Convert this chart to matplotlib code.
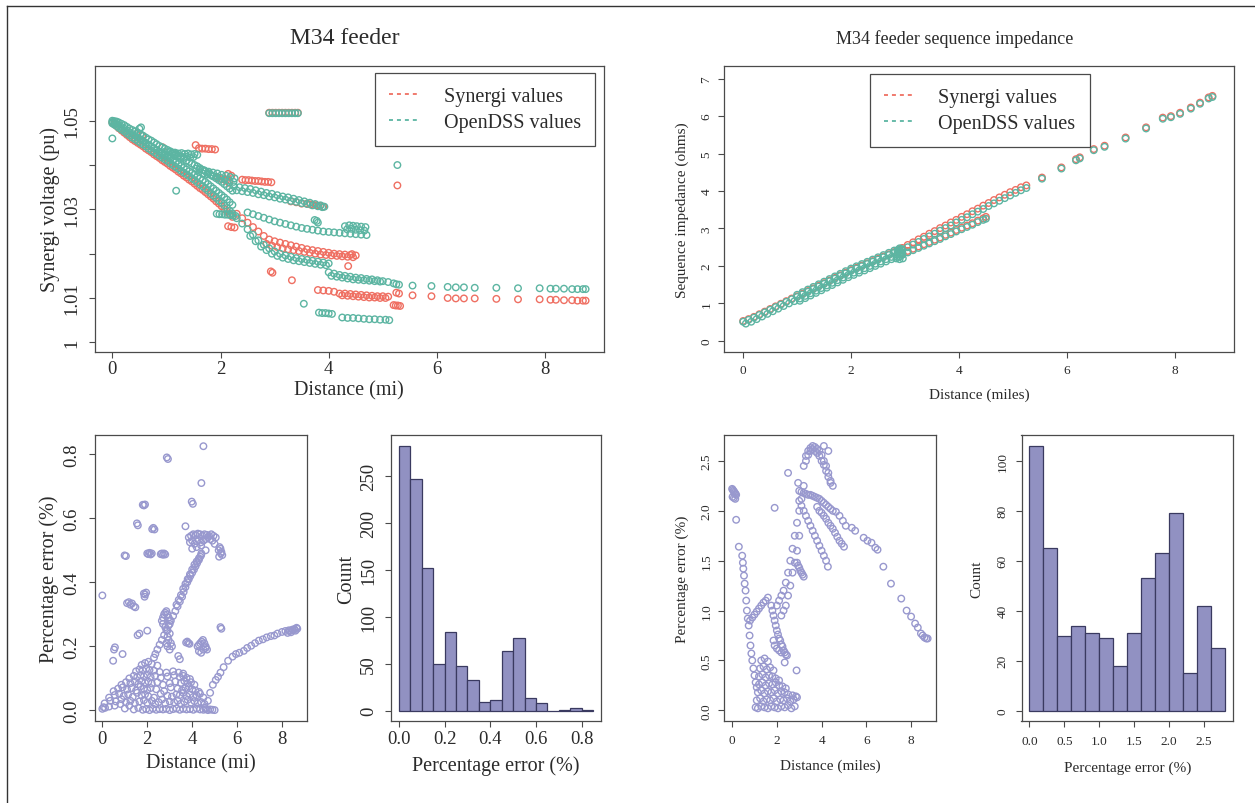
import numpy as np
import matplotlib
matplotlib.use("Agg")
import matplotlib.pyplot as plt
from matplotlib.lines import Line2D

plt.rcParams['font.family'] = ['Liberation Serif', 'DejaVu Serif']

SYN = '#EF6F62'
DSS = '#5CB5A2'
PUR = '#9898CE'
HIST_FILL = '#9191C2'
HIST_EDGE = '#3A3A60'
INK = '#2b2b2b'
AXC = '#4a4a4a'

# ---------------------------------------------------------------- voltage profile (pu)
trunk_dist = [0.00,0.04,0.08,0.12,0.17,0.22,0.27,0.32,0.37,0.42,0.47,0.52,0.57,0.62,0.67,0.72,0.77,0.82,0.87,0.92,0.97,
              1.02,1.07,1.12,1.17,1.22,1.27,1.32,1.37,1.42,1.47,1.52,1.57,1.62,1.67,1.72,1.77,1.82,1.87,1.92,1.97,2.02,2.07,2.12,2.17,2.22]
dss_trunk_hi = [1.0500,1.0499,1.0498,1.0496,1.0493,1.0490,1.0486,1.0482,1.0479,1.0476,1.0473,1.0470,1.0466,1.0462,1.0458,1.0455,1.0451,1.0447,1.0443,1.0440,1.0437,
                1.0434,1.0431,1.0428,1.0424,1.0421,1.0418,1.0414,1.0410,1.0407,1.0403,1.0400,1.0397,1.0393,1.0389,1.0386,1.0382,1.0378,1.0374,1.0370,1.0366,1.0362,1.0357,1.0352,1.0347,1.0342]
dss_trunk_mid = [1.0497,1.0495,1.0493,1.0490,1.0486,1.0482,1.0478,1.0474,1.0470,1.0466,1.0462,1.0458,1.0454,1.0450,1.0446,1.0442,
                 1.0438,1.0434,1.0430,1.0426,1.0422,1.0418,1.0414,1.0410,1.0406,1.0402,1.0398,1.0394,1.0390,1.0386,1.0382,1.0378,1.0374,1.0370,1.0366,1.0362,
                 1.0357,1.0352,1.0347,1.0342,1.0337,1.0332,1.0327,1.0322,1.0316,1.0310]
dss_trunk_lo = [1.0494,1.0491,1.0488,1.0484,1.0480,1.0476,1.0471,1.0467,1.0462,1.0458,1.0454,1.0450,1.0446,1.0442,1.0437,1.0433,1.0429,1.0425,1.0421,1.0417,
                1.0413,1.0409,1.0404,1.0400,1.0396,1.0392,1.0387,1.0383,1.0379,1.0375,1.0370,1.0366,1.0361,1.0356,1.0352,1.0347,1.0342,1.0336,1.0331,1.0326,
                1.0320,1.0315,1.0309,1.0303,1.0297,1.0291]
syn_trunk = [1.0496,1.0492,1.0488,1.0483,1.0478,1.0473,1.0468,1.0463,1.0458,1.0454,1.0450,1.0446,1.0442,1.0437,1.0433,1.0429,1.0424,1.0420,1.0416,1.0411,
             1.0407,1.0403,1.0398,1.0394,1.0390,1.0385,1.0381,1.0376,1.0372,1.0367,1.0363,1.0358,1.0353,1.0348,1.0344,1.0339,1.0334,1.0329,1.0324,1.0318,
             1.0313,1.0307,1.0301,1.0295,1.0289,1.0283]

dss_lat_dist = [0.90,0.97,1.04,1.10,1.16,1.22,1.28,1.34,1.40,1.46,1.52,1.57,0.95,1.02,1.08,1.14,1.20,1.26,1.32,1.38,1.44,1.50,
                1.55,1.62,1.70,1.78,1.86,1.94,2.02,2.10,2.18,2.26,1.60,1.68,1.76,1.84,1.92,2.00,2.08,2.16,2.24,
                1.93,1.98,2.03,2.08,2.13,2.18,2.23,2.28]
dss_lat_volt = [1.0428,1.0430,1.0429,1.0427,1.0428,1.0426,1.0427,1.0425,1.0426,1.0424,1.0425,1.0423,1.0421,1.0422,1.0420,1.0421,1.0419,1.0420,1.0418,1.0419,1.0417,1.0418,
                1.0392,1.0390,1.0388,1.0385,1.0383,1.0381,1.0378,1.0376,1.0373,1.0370,1.0384,1.0381,1.0379,1.0376,1.0374,1.0371,1.0368,1.0365,1.0362,
                1.0290,1.0289,1.0289,1.0288,1.0288,1.0287,1.0286,1.0285]

dss_upper_dist = [2.25,2.35,2.45,2.55,2.65,2.75,2.85,2.95,3.05,3.15,3.25,3.35,3.45,3.55,3.65,3.75,3.85,3.92,
                  2.30,2.40,2.50,2.60,2.70,2.80,2.90,3.00,3.10,3.20,3.30,3.40,3.50,3.60,3.70,3.80,3.88]
dss_upper_volt = [1.0352,1.0350,1.0348,1.0346,1.0343,1.0340,1.0337,1.0335,1.0332,1.0329,1.0327,1.0324,1.0321,1.0318,1.0315,1.0312,1.0309,1.0306,
                  1.0343,1.0341,1.0339,1.0337,1.0334,1.0332,1.0329,1.0327,1.0324,1.0322,1.0319,1.0317,1.0314,1.0312,1.0309,1.0307,1.0305]

dss_mid_dist = [2.50,2.60,2.70,2.80,2.90,3.00,3.10,3.20,3.30,3.40,3.50,3.60,3.70,3.80,3.90,4.00,4.10,4.20,4.30,4.40,4.50,4.60,4.70,
                4.30,4.38,4.45,4.52,4.60,4.68,4.34,4.42,4.50,4.58,4.66,3.74,3.78,3.80]
dss_mid_volt = [1.0293,1.0289,1.0285,1.0281,1.0277,1.0273,1.0270,1.0267,1.0264,1.0261,1.0258,1.0256,1.0254,1.0252,1.0250,1.0249,1.0248,1.0247,1.0246,1.0245,1.0244,1.0243,1.0242,
                1.0262,1.0264,1.0263,1.0262,1.0261,1.0260,1.0255,1.0256,1.0254,1.0253,1.0252,1.0276,1.0274,1.0270]

dss_lower_dist = [2.30,2.40,2.50,2.60,2.70,2.80,2.90,3.00,3.10,3.20,3.30,3.40,3.50,3.60,3.70,3.80,3.90,4.00,
                  2.55,2.65,2.75,2.85,2.95,3.05,3.15,3.25,3.35,3.45,3.55,3.65,3.75,3.85,3.95]
dss_lower_volt = [1.0280,1.0268,1.0255,1.0243,1.0230,1.0220,1.0212,1.0205,1.0200,1.0196,1.0193,1.0190,1.0188,1.0186,1.0184,1.0182,1.0180,1.0178,
                  1.0240,1.0228,1.0216,1.0208,1.0200,1.0195,1.0191,1.0188,1.0185,1.0183,1.0181,1.0179,1.0177,1.0175,1.0174]

dss_tail_dist = [4.00,4.10,4.20,4.30,4.40,4.50,4.60,4.70,4.80,4.90,5.00,5.10,5.20,5.25,5.30,5.55,5.90,6.20,6.35,6.50,6.70,7.10,7.50,7.90,
                 8.10,8.20,8.35,8.50,8.60,8.70,8.75,
                 4.05,4.15,4.25,4.35,4.45,4.55,4.65,4.75,4.85,4.95]
dss_tail_volt = [1.0158,1.0155,1.0152,1.0150,1.0148,1.0146,1.0145,1.0143,1.0142,1.0140,1.0138,1.0136,1.0133,1.0131,1.0130,1.0128,1.0127,1.0125,1.0124,1.0124,1.0123,1.0123,1.0122,1.0122,
                 1.0121,1.0121,1.0121,1.0120,1.0120,1.0120,1.0120,
                 1.0150,1.0148,1.0146,1.0144,1.0142,1.0141,1.0140,1.0139,1.0138,1.0137]

dss_low_dist = [3.54,3.82,3.88,3.94,4.00,4.06,4.25,4.35,4.45,4.55,4.65,4.75,4.85,4.95,5.05,5.12]
dss_low_volt = [1.0087,1.0067,1.0066,1.0066,1.0065,1.0064,1.0056,1.0055,1.0055,1.0054,1.0053,1.0052,1.0052,1.0051,1.0051,1.0050]

high_dist = [2.90,2.96,3.02,3.08,3.14,3.20,3.26,3.32,3.38,3.43]
dss_high_volt = [1.0517,1.0517,1.0517,1.0517,1.0517,1.0517,1.0517,1.0517,1.0517,1.0517]
syn_high_volt = [1.0518,1.0518,1.0518,1.0518,1.0518,1.0518,1.0518,1.0518,1.0518,1.0518]

dss_odd_dist = [0.00,0.50,0.53,1.18,5.27]
dss_odd_volt = [1.0460,1.0482,1.0485,1.0342,1.0400]

syn_lat_dist = [0.93,1.54,1.60,1.66,1.72,1.78,1.84,1.90,
                2.14,2.20,2.40,2.46,2.52,2.58,2.64,2.70,2.76,2.82,2.88,2.94,3.60,3.66,3.72,3.78,3.84,3.90,3.30,3.40,3.50]
syn_lat_volt = [1.0440,1.0445,1.0438,1.0437,1.0437,1.0436,1.0436,1.0435,
                1.0380,1.0376,1.0367,1.0366,1.0366,1.0365,1.0364,1.0364,1.0363,1.0362,1.0362,1.0361,1.0313,1.0311,1.0310,1.0309,1.0308,1.0306,1.0318,1.0316,1.0313]

syn_mid_dist = [2.30,2.40,2.50,2.60,2.70,2.80,2.90,3.00,3.10,3.20,3.30,3.40,3.50,3.60,3.70,3.80,3.90,4.00,4.10,4.20,4.30,4.40,4.50,
                2.85,2.95,3.05,3.15,3.25,3.35,3.45,3.55,3.65,3.75,3.85,3.95,4.05,4.15,4.25,4.35,4.45]
syn_mid_volt = [1.0290,1.0280,1.0270,1.0260,1.0250,1.0240,1.0232,1.0228,1.0225,1.0222,1.0219,1.0216,1.0213,1.0210,1.0208,1.0206,1.0204,1.0202,1.0200,1.0199,1.0198,1.0197,1.0196,
                1.0222,1.0218,1.0215,1.0212,1.0210,1.0208,1.0206,1.0204,1.0202,1.0200,1.0198,1.0197,1.0196,1.0195,1.0194,1.0193,1.0192]

syn_tail_dist = [3.80,3.90,4.00,4.10,4.20,4.30,4.40,4.50,4.60,4.70,4.80,4.90,5.00,5.10,5.25,5.30,5.55,5.90,6.20,6.35,6.50,6.70,7.10,7.50,7.90,
                 8.10,8.20,8.35,8.50,8.60,8.70,8.75,
                 4.25,4.35,4.45,4.55,4.65,4.75,4.85,4.95,5.05,5.20,5.24,5.28,5.32]
syn_tail_volt = [1.0118,1.0117,1.0116,1.0114,1.0110,1.0110,1.0109,1.0108,1.0107,1.0106,1.0105,1.0104,1.0104,1.0103,1.0112,1.0110,1.0106,1.0104,1.0100,1.0099,1.0099,1.0099,1.0098,1.0097,1.0097,
                 1.0096,1.0096,1.0095,1.0095,1.0094,1.0094,1.0094,
                 1.0106,1.0105,1.0104,1.0103,1.0102,1.0101,1.0101,1.0100,1.0100,1.0084,1.0083,1.0083,1.0082]

syn_odd_dist = [2.93,2.96,3.32,4.36,4.43,5.27,2.14,2.20,2.26,1.95,2.02,2.10,2.16,0.45,0.55]
syn_odd_volt = [1.0160,1.0157,1.0140,1.0172,1.0199,1.0354,1.0262,1.0260,1.0259,1.0372,1.0368,1.0365,1.0360,1.0470,1.0466]

# ---------------------------------------------------------------- sequence impedance (ohms)
imp_a_dist = [0.00,0.10,0.20,0.30,0.40,0.50,0.60,0.70,0.80,0.90,1.00,1.10,1.20,1.30,1.40,1.50,1.60,1.70,1.80,1.90,
              2.00,2.10,2.20,2.30,2.40,2.50,2.60,2.70,2.80,2.90]
dss_imp_a = [0.51,0.56,0.62,0.69,0.76,0.83,0.90,0.97,1.04,1.11,1.17,1.24,1.31,1.38,1.45,1.52,1.59,1.66,1.73,1.80,
             1.87,1.93,1.99,2.05,2.11,2.17,2.23,2.29,2.35,2.41]
syn_imp_a = [0.53,0.58,0.64,0.71,0.78,0.85,0.92,0.99,1.06,1.13,1.19,1.26,1.33,1.40,1.47,1.54,1.61,1.68,1.75,1.82,
             1.89,1.95,2.01,2.07,2.13,2.19,2.25,2.31,2.37,2.43]
imp_b_dist = [0.05,0.15,0.25,0.35,0.45,0.55,0.65,0.75,0.85,0.95,1.05,1.15,1.25,1.35,1.45,1.55,1.65,1.75,1.85,1.95,
              2.05,2.15,2.25,2.35,2.45,2.55,2.65,2.75,2.85,2.95]
dss_imp_b = [0.46,0.51,0.58,0.65,0.72,0.79,0.86,0.93,1.00,1.06,1.13,1.20,1.27,1.34,1.41,1.48,1.55,1.62,1.69,1.76,
             1.82,1.88,1.94,2.00,2.06,2.12,2.18,2.24,2.30,2.36]
imp_c_dist = [1.00,1.10,1.20,1.30,1.40,1.50,1.60,1.70,1.80,1.90,2.00,2.10,2.20,2.30,2.40,2.50,2.60,2.70,2.80,2.90]
dss_imp_c = [1.23,1.30,1.37,1.44,1.51,1.58,1.65,1.72,1.79,1.86,1.93,1.99,2.05,2.11,2.17,2.23,2.29,2.35,2.41,2.47]
imp_d_dist = [1.05,1.15,1.25,1.35,1.45,1.55,1.65,1.75,1.85,1.95,2.05,2.15,2.25,2.35,2.45,2.55,2.65,2.75,2.85,2.95]
dss_imp_d = [1.07,1.14,1.21,1.28,1.35,1.42,1.49,1.56,1.63,1.70,1.76,1.82,1.88,1.94,2.00,2.06,2.12,2.18,2.24,2.30]
blob_dist = [2.84,2.86,2.88,2.90,2.92,2.94,2.96,2.86,2.90,2.94]
dss_blob = [2.20,2.30,2.40,2.25,2.35,2.45,2.20,2.42,2.18,2.30]
up_dist = [2.95,3.05,3.15,3.25,3.35,3.45,3.55,3.65,3.75,3.85,3.95,4.05,4.15,4.25,4.35,4.45,4.55,4.65,4.75,4.85,4.95,5.05,5.15,5.25]
dss_up = [2.42,2.50,2.57,2.64,2.72,2.79,2.86,2.94,3.01,3.08,3.16,3.23,3.30,3.38,3.45,3.52,3.60,3.67,3.74,3.81,3.88,3.95,4.02,4.08]
syn_up = [2.48,2.56,2.63,2.71,2.78,2.86,2.93,3.01,3.08,3.16,3.23,3.31,3.38,3.46,3.53,3.61,3.68,3.76,3.83,3.90,3.97,4.03,4.10,4.15]
lo_dist = [2.95,3.05,3.15,3.25,3.35,3.45,3.55,3.65,3.75,3.85,3.95,4.05,4.15,4.25,4.35,4.45,4.50]
dss_lo = [2.30,2.36,2.42,2.48,2.54,2.60,2.66,2.72,2.79,2.85,2.92,2.98,3.04,3.10,3.17,3.23,3.26]
syn_lo = [2.34,2.40,2.46,2.52,2.58,2.64,2.70,2.76,2.83,2.89,2.96,3.02,3.08,3.14,3.21,3.27,3.31]
far_dist = [5.54,5.90,6.17,6.24,6.50,6.70,7.09,7.47,7.78,7.93,8.10,8.30,8.47,8.63,8.70]
dss_far = [4.33,4.60,4.82,4.87,5.09,5.18,5.40,5.67,5.93,5.97,6.06,6.20,6.33,6.47,6.51]
syn_far = [4.36,4.63,4.85,4.90,5.12,5.21,5.43,5.70,5.96,6.00,6.09,6.23,6.36,6.50,6.54]

# ---------------------------------------------------------------- voltage percentage error (%)
verr_dist = [0.00,0.05,0.12,0.30,0.55,0.80,1.00,1.20,1.40,1.60,1.80,1.95,2.10,2.25,2.40,2.55,2.70,2.85,3.00,3.15,3.30,3.45,3.60,3.75,3.90,4.05,4.20,4.35,4.50,4.60,4.70,4.80,4.90,5.00,
             0.10,0.35,0.60,0.85,1.05,1.25,1.45,1.65,1.85,2.00,2.20,2.35,2.50,2.65,2.80,3.00,3.20,3.35,3.50,3.65,3.80,3.95,4.10,4.25,4.40,4.55,
             0.30,0.55,0.75,0.95,1.15,1.35,1.55,1.75,1.90,2.05,2.30,2.60,2.90,3.10,3.30,3.45,3.60,3.75,3.90,4.05,4.20,4.35,4.50,
             0.50,0.70,0.90,1.10,1.30,1.50,1.70,1.85,2.00,2.15,2.40,2.75,3.05,3.35,3.55,3.70,3.85,4.00,4.15,4.30,
             0.85,1.05,1.25,1.45,1.60,1.75,1.90,2.05,2.20,2.45,2.70,3.00,3.25,3.50,3.65,3.80,3.95,4.10,
             1.20,1.40,1.55,1.70,1.85,2.00,2.15,2.35,2.60,2.90,3.20,3.45,3.60,3.75,3.90,
             1.50,1.65,1.80,1.95,2.10,2.30,2.55,2.85,3.15,3.40,3.60,
             1.75,1.90,2.05,2.20,2.45,2.30]
verr_pct = [0.005,0.010,0.008,0.012,0.015,0.020,0.006,0.015,0.003,0.008,0.002,0.004,0.001,0.006,0.002,0.004,0.003,0.005,0.001,0.004,0.006,0.002,0.005,0.003,0.004,0.002,0.006,0.003,0.002,0.004,0.001,0.003,0.002,0.001,
            0.022,0.030,0.028,0.035,0.025,0.030,0.022,0.028,0.032,0.024,0.030,0.020,0.026,0.034,0.022,0.028,0.025,0.030,0.021,0.027,0.033,0.024,0.029,0.022,0.026,0.020,
            0.040,0.048,0.052,0.045,0.050,0.042,0.055,0.047,0.050,0.044,0.040,0.052,0.046,0.043,0.050,0.048,0.055,0.045,0.050,0.042,0.047,0.052,0.040,
            0.060,0.068,0.072,0.065,0.070,0.062,0.075,0.068,0.064,0.070,0.066,0.060,0.072,0.068,0.063,0.070,0.075,0.066,0.062,0.058,
            0.080,0.088,0.085,0.090,0.082,0.092,0.086,0.090,0.084,0.088,0.080,0.085,0.090,0.086,0.092,0.084,0.088,0.080,
            0.100,0.108,0.104,0.110,0.106,0.112,0.104,0.108,0.102,0.106,0.110,0.104,0.108,0.102,0.098,
            0.122,0.128,0.125,0.130,0.126,0.124,0.120,0.118,0.122,0.118,0.115,
            0.142,0.148,0.152,0.145,0.140,0.165]

verr_hi_dist = [0.00,0.48,0.52,0.56,0.90,0.99,1.05,1.10,1.18,1.25,1.32,1.40,1.47,1.54,1.58,1.80,1.85,1.90,1.85,1.90,1.95,1.88,1.57,1.65,2.00,
                2.00,2.05,2.10,2.15,2.20,2.22,2.27,2.32,2.60,2.65,2.70,2.75,2.80,2.87,2.92,
                2.65,2.70,2.75,2.80,2.85,2.90,2.95,3.00,2.70,2.80,2.90,3.00,2.85,2.90,2.95,3.00,3.05,3.10,2.90,3.00]
verr_hi_pct = [0.359,0.155,0.190,0.197,0.176,0.484,0.482,0.335,0.338,0.330,0.334,0.325,0.322,0.584,0.578,0.642,0.640,0.643,0.365,0.362,0.368,0.355,0.235,0.240,0.249,
               0.490,0.488,0.492,0.487,0.490,0.566,0.570,0.565,0.488,0.490,0.486,0.490,0.487,0.790,0.785,
               0.280,0.290,0.300,0.305,0.310,0.300,0.290,0.280,0.270,0.260,0.250,0.270,0.210,0.200,0.220,0.240,0.210,0.200,0.230,0.190]

verr_diag_dist = [2.36,2.45,2.55,2.65,2.75,2.85,2.95,3.05,3.15,3.25,3.35,3.45,3.55,3.62,3.70,3.78,3.85,3.92,4.00,4.08,4.15,4.22,4.30,4.36,4.41,
                  3.30,3.40,3.50,3.60,3.70,3.80,3.90,4.00,4.10,4.20,4.30,4.40]
verr_diag_pct = [0.176,0.190,0.205,0.220,0.235,0.250,0.265,0.280,0.295,0.310,0.325,0.340,0.355,0.370,0.385,0.400,0.410,0.420,0.430,0.440,0.450,0.460,0.470,0.480,0.490,
                 0.330,0.345,0.360,0.380,0.395,0.410,0.425,0.440,0.455,0.465,0.475,0.485]

verr_far_dist = [3.85,3.95,4.05,4.15,4.25,4.35,4.45,4.55,4.65,4.75,4.85,4.95,5.05,3.90,4.00,4.10,4.20,4.30,4.40,4.50,4.60,4.70,4.80,4.90,5.00,4.00,4.20,4.40,4.60,
                 3.70,3.98,4.03,4.41,4.50,5.18,5.22,5.26,5.30,5.34,5.20,5.28,3.73,3.78,3.83,3.88,4.24,4.30,4.36,4.42,4.48,4.54,4.60,4.66,4.30,4.40,4.50,4.60,3.38,3.45,5.26,5.30,
                 4.58,4.70,4.80,4.92,5.05,5.15,5.26,5.40,5.60,5.80,5.95,6.10,6.30,6.45,6.63,6.80,6.97,7.15,7.32,7.50,7.66,7.80,8.00,8.15,8.30,8.45,8.55,8.68,
                 8.25,8.35,8.40,8.50,8.60,8.65]
verr_far_pct = [0.540,0.545,0.550,0.548,0.552,0.550,0.545,0.550,0.548,0.545,0.550,0.545,0.540,0.525,0.530,0.520,0.528,0.532,0.525,0.530,0.535,0.540,0.535,0.530,0.520,0.505,0.510,0.515,0.500,
                0.575,0.652,0.645,0.710,0.825,0.500,0.510,0.505,0.495,0.485,0.480,0.490,0.212,0.215,0.210,0.208,0.200,0.205,0.210,0.215,0.220,0.210,0.200,0.190,0.185,0.180,0.190,0.195,0.170,0.160,0.260,0.255,
                0.008,0.030,0.055,0.080,0.095,0.105,0.118,0.135,0.155,0.168,0.176,0.180,0.186,0.195,0.202,0.210,0.218,0.222,0.228,0.232,0.234,0.240,0.245,0.248,0.250,0.252,0.254,0.255,
                0.242,0.248,0.244,0.250,0.249,0.258]

verr_bin_edges = [0.00,0.05,0.10,0.15,0.20,0.25,0.30,0.35,0.40,0.45,0.50,0.55,0.60,0.65,0.70,0.75,0.80,0.85]
verr_counts = [282,246,152,50,84,48,33,9,11,64,77,14,8,0,1,3,1]

# ---------------------------------------------------------------- impedance percentage error (%)
ierr_dist = [0.00,0.03,0.06,0.09,0.12,0.15,0.18,0.02,0.08,0.14,0.18,0.30,
             0.45,0.48,0.50,0.53,0.56,0.60,0.63,0.66,0.70,0.74,0.78,0.82,0.86,0.90,0.95,1.00,1.05,1.10,
             0.80,0.90,1.00,1.10,1.20,1.30,1.40,1.50,1.60,
             1.05,1.15,1.30,1.45,1.60,1.75,1.90,2.05,2.20,2.35,2.50,2.65,2.80,
             1.10,1.25,1.40,1.55,1.70,1.85,2.00,2.15,2.30,2.45,2.60,2.75,2.90,
             1.15,1.30,1.45,1.60,1.75,1.90,2.05,2.20,2.35,2.50,2.70,2.85,
             1.20,1.35,1.50,1.65,1.80,1.95,2.10,2.25,2.40,
             1.20,1.35,1.50,1.65,1.80,1.95,2.10,
             1.25,1.40,1.55,1.70,1.85,
             1.30,1.45,1.60,2.88,2.35]
ierr_pct = [2.22,2.21,2.20,2.19,2.18,2.17,2.16,2.14,2.13,2.12,1.91,1.64,
            1.55,1.48,1.42,1.35,1.27,1.20,1.10,1.00,0.92,0.85,0.75,0.65,0.57,0.50,0.42,0.35,0.28,0.23,
            0.90,0.93,0.96,0.99,1.02,1.05,1.08,1.10,1.13,
            0.03,0.02,0.04,0.03,0.02,0.04,0.03,0.02,0.04,0.03,0.05,0.02,0.04,
            0.10,0.12,0.09,0.11,0.10,0.12,0.09,0.11,0.10,0.12,0.09,0.11,0.13,
            0.18,0.20,0.17,0.19,0.18,0.20,0.17,0.19,0.18,0.16,0.15,0.14,
            0.26,0.28,0.25,0.27,0.26,0.28,0.25,0.24,0.22,
            0.34,0.36,0.33,0.35,0.34,0.32,0.30,
            0.42,0.44,0.41,0.43,0.40,
            0.50,0.52,0.49,0.40,0.48]

ierr_arm_dist = [1.75,1.80,1.85,1.90,1.95,2.00,2.05,2.10,2.15,2.20,2.25,2.30,2.35,2.40,2.45,1.85,1.90,2.00,2.10,2.20,
                 2.00,2.10,2.20,2.30,2.40,2.50,2.60,2.70,2.80,2.90,3.00,3.10,3.20,
                 2.20,2.30,2.40,2.50,2.60,2.70,2.80,2.90,3.00,
                 1.90,2.50,2.95,2.90,2.95,3.00,3.05,3.10,3.15,3.20,4.10,4.30]
ierr_arm_pct = [1.05,1.00,0.95,0.90,0.85,0.80,0.76,0.72,0.70,0.66,0.64,0.60,0.58,0.56,0.55,0.70,0.65,0.62,0.60,0.58,
                1.05,1.10,1.15,1.20,1.28,1.38,1.50,1.62,1.75,1.88,2.00,2.12,2.25,
                0.95,1.00,1.05,1.15,1.25,1.38,1.48,1.60,1.75,
                2.03,2.38,2.28,1.48,1.45,1.43,1.40,1.38,1.36,1.34,2.65,2.60]

ierr_peak_dist = [3.20,3.30,3.40,3.50,3.60,3.70,3.80,3.90,4.00,4.10,4.20,4.30,4.40,4.50,
                  3.30,3.40,3.50,3.60,3.70,3.80,3.90,4.00,4.10,4.20,4.30,4.40,
                  3.00,3.10,3.20,3.30,3.40,3.50,3.60,3.70,3.80,3.90,4.00,4.10,4.20,4.30,4.40,4.50,4.64,4.80,4.95,5.08,
                  5.35,5.50,5.88,6.05,6.23,6.40,6.50,6.76,7.10,7.56,7.80,8.00,8.18,8.30,8.44,8.52,8.60,8.68,8.74,
                  3.00,3.10,3.20,3.30,3.40,3.50,3.60,3.70,3.80,3.90,4.00,4.10,4.20,4.28,
                  3.80,3.90,4.00,4.10,4.20,4.30,4.40,4.50,4.60,4.70,4.80,4.90,5.00]
ierr_peak_pct = [2.45,2.55,2.60,2.63,2.65,2.64,2.62,2.60,2.56,2.50,2.45,2.38,2.30,2.25,
                 2.50,2.56,2.60,2.62,2.60,2.58,2.55,2.50,2.46,2.40,2.34,2.28,
                 2.20,2.19,2.18,2.17,2.16,2.16,2.15,2.14,2.13,2.12,2.10,2.08,2.06,2.04,2.02,2.00,1.99,1.95,1.90,1.85,
                 1.83,1.80,1.73,1.70,1.68,1.63,1.61,1.44,1.27,1.12,1.00,0.94,0.87,0.83,0.77,0.75,0.73,0.72,0.72,
                 2.10,2.05,2.00,1.95,1.90,1.85,1.80,1.75,1.70,1.65,1.60,1.55,1.50,1.44,
                 2.04,2.00,1.98,1.95,1.92,1.88,1.85,1.82,1.78,1.74,1.70,1.67,1.64]

ierr_bin_edges = [0.0,0.2,0.4,0.6,0.8,1.0,1.2,1.4,1.6,1.8,2.0,2.2,2.4,2.6,2.8]
ierr_counts = [106,65,30,34,31,29,18,31,53,63,79,15,42,25]

# ---------------------------------------------------------------- layout helpers
W, H = 1255, 804
fig = plt.figure(figsize=(W / 100, H / 100), dpi=100)
fig.patch.set_facecolor('white')


def add_axes_px(x0, y0, x1, y1):
    return fig.add_axes([x0 / W, 1 - y1 / H, (x1 - x0) / W, (y1 - y0) / H])


def style(ax, fs, xpad, ypad):
    for s in ax.spines.values():
        s.set_color(AXC)
        s.set_linewidth(0.9)
    ax.tick_params(axis='both', direction='out', length=4.5, width=0.8,
                   color=AXC, labelcolor=INK, labelsize=fs)
    ax.tick_params(axis='x', pad=xpad)
    ax.tick_params(axis='y', pad=ypad)
    for lab in ax.get_yticklabels():
        lab.set_rotation(90)
        lab.set_va('center')


def labels(ax, rect, xlab, ylab, fs, ylab_x, xlab_y):
    x0, y0, x1, y1 = rect
    ax.set_xlabel(xlab, fontsize=fs, color=INK)
    ax.set_ylabel(ylab, fontsize=fs, color=INK)
    ax.xaxis.label.set_va('center')
    ax.yaxis.label.set_va('center')
    ax.xaxis.set_label_coords(0.5, (y1 - xlab_y) / (y1 - y0))
    ax.yaxis.set_label_coords((ylab_x - x0) / (x1 - x0), 0.5)


def dots(ax, x, y, color):
    ax.scatter(x, y, s=22, facecolors='none', edgecolors=color, linewidths=1.0)


def series_legend(ax, right_px, top_px):
    handles = [Line2D([], [], color=SYN, lw=1.3, ls=(0, (2.2, 2.2))),
               Line2D([], [], color=DSS, lw=1.3, ls=(0, (2.2, 2.2)))]
    leg = ax.legend(handles, ['Synergi values', 'OpenDSS values'], loc='upper right',
                    bbox_to_anchor=(right_px / W, 1 - top_px / H), bbox_transform=fig.transFigure,
                    borderaxespad=0, fancybox=False, framealpha=1, edgecolor=AXC,
                    fontsize=14.5, handlelength=1.45, handletextpad=1.25,
                    borderpad=0.7, labelspacing=0.35)
    leg.get_frame().set_linewidth(0.9)
    for t in leg.get_texts():
        t.set_color(INK)


# ---------------------------------------------------------------- voltage profile
r_tl = (94.5, 67.3, 604, 352.7)
ax = add_axes_px(*r_tl)
dots(ax, trunk_dist, syn_trunk, SYN)
dots(ax, syn_lat_dist, syn_lat_volt, SYN)
dots(ax, syn_mid_dist, syn_mid_volt, SYN)
dots(ax, syn_tail_dist, syn_tail_volt, SYN)
dots(ax, syn_odd_dist, syn_odd_volt, SYN)
dots(ax, high_dist, syn_high_volt, SYN)
dots(ax, trunk_dist, dss_trunk_hi, DSS)
dots(ax, trunk_dist, dss_trunk_mid, DSS)
dots(ax, trunk_dist, dss_trunk_lo, DSS)
dots(ax, dss_lat_dist, dss_lat_volt, DSS)
dots(ax, dss_upper_dist, dss_upper_volt, DSS)
dots(ax, dss_mid_dist, dss_mid_volt, DSS)
dots(ax, dss_lower_dist, dss_lower_volt, DSS)
dots(ax, dss_tail_dist, dss_tail_volt, DSS)
dots(ax, dss_low_dist, dss_low_volt, DSS)
dots(ax, dss_odd_dist, dss_odd_volt, DSS)
dots(ax, high_dist, dss_high_volt, DSS)
ax.set_xlim(-0.33, 9.09)
ax.set_ylim(0.99788, 1.06228)
ax.set_xticks([0, 2, 4, 6, 8], ['0', '2', '4', '6', '8'])
ax.set_yticks([1.00, 1.01, 1.02, 1.03, 1.04, 1.05], ['1', '1.01', '', '1.03', '', '1.05'])
style(ax, 13.5, 1.5, 5.5)
labels(ax, r_tl, 'Distance (mi)', 'Synergi voltage (pu)', 14.5, 50, 391)
series_legend(ax, 595, 74)
fig.text(345 / W, 1 - 39 / H, 'M34 feeder', ha='center', va='center', fontsize=17, color=INK)

# ---------------------------------------------------------------- sequence impedance
r_tr = (724.3, 67.3, 1234, 352.7)
ax = add_axes_px(*r_tr)
dots(ax, imp_a_dist, syn_imp_a, SYN)
dots(ax, up_dist, syn_up, SYN)
dots(ax, lo_dist, syn_lo, SYN)
dots(ax, far_dist, syn_far, SYN)
dots(ax, imp_a_dist, dss_imp_a, DSS)
dots(ax, imp_b_dist, dss_imp_b, DSS)
dots(ax, imp_c_dist, dss_imp_c, DSS)
dots(ax, imp_d_dist, dss_imp_d, DSS)
dots(ax, blob_dist, dss_blob, DSS)
dots(ax, up_dist, dss_up, DSS)
dots(ax, lo_dist, dss_lo, DSS)
dots(ax, far_dist, dss_far, DSS)
ax.set_xlim(-0.35, 9.1)
ax.set_ylim(-0.29, 7.33)
ax.set_xticks([0, 2, 4, 6, 8], ['0', '2', '4', '6', '8'])
ax.set_yticks(list(range(8)), [str(v) for v in range(8)])
style(ax, 9.5, 4.5, 4.0)
labels(ax, r_tr, 'Distance (miles)', 'Sequence impedance (ohms)', 11, 682, 395)
series_legend(ax, 1089.5, 75)
fig.text(955 / W, 1 - 39 / H, 'M34 feeder sequence impedance', ha='center', va='center',
         fontsize=13, color=INK)

# ---------------------------------------------------------------- voltage error scatter
r_bl = (94.5, 436, 306.7, 722.3)
ax = add_axes_px(*r_bl)
dots(ax, verr_dist, verr_pct, PUR)
dots(ax, verr_hi_dist, verr_hi_pct, PUR)
dots(ax, verr_diag_dist, verr_diag_pct, PUR)
dots(ax, verr_far_dist, verr_far_pct, PUR)
ax.set_xlim(-0.35, 9.1)
ax.set_ylim(-0.034, 0.86)
ax.set_xticks([0, 2, 4, 6, 8], ['0', '2', '4', '6', '8'])
ax.set_yticks([0.0, 0.2, 0.4, 0.6, 0.8], ['0.0', '0.2', '0.4', '0.6', '0.8'])
style(ax, 13.5, 1.5, 5.5)
labels(ax, r_bl, 'Distance (mi)', 'Percentage error (%)', 14.5, 49, 764)

# ---------------------------------------------------------------- voltage error histogram
r_blh = (391, 436, 601, 722.3)
ax = add_axes_px(*r_blh)
ax.bar(verr_bin_edges[:-1], verr_counts, width=np.diff(verr_bin_edges), align='edge',
       color=HIST_FILL, edgecolor=HIST_EDGE, linewidth=0.9)
ax.set_xlim(-0.034, 0.884)
ax.set_ylim(-11.3, 293.3)
ax.set_xticks([0.0, 0.2, 0.4, 0.6, 0.8], ['0.0', '0.2', '0.4', '0.6', '0.8'])
ax.set_yticks([0, 50, 100, 150, 200, 250], ['0', '50', '100', '150', '200', '250'])
style(ax, 13.5, 1.5, 5.5)
labels(ax, r_blh, 'Percentage error (%)', 'Count', 14.5, 347, 766)

# ---------------------------------------------------------------- impedance error scatter
r_br = (724.3, 436, 935.7, 722.3)
ax = add_axes_px(*r_br)
dots(ax, ierr_dist, ierr_pct, PUR)
dots(ax, ierr_arm_dist, ierr_arm_pct, PUR)
dots(ax, ierr_peak_dist, ierr_peak_pct, PUR)
ax.set_xlim(-0.35, 9.1)
ax.set_ylim(-0.11, 2.76)
ax.set_xticks([0, 2, 4, 6, 8], ['0', '2', '4', '6', '8'])
ax.set_yticks([0.0, 0.5, 1.0, 1.5, 2.0, 2.5], ['0.0', '0.5', '1.0', '1.5', '2.0', '2.5'])
style(ax, 9.5, 4.5, 4.0)
labels(ax, r_br, 'Distance (miles)', 'Percentage error (%)', 11, 682, 766)

# ---------------------------------------------------------------- impedance error histogram
r_brh = (1021.5, 436, 1233, 722.3)
ax = add_axes_px(*r_brh)
ax.bar(ierr_bin_edges[:-1], ierr_counts, width=np.diff(ierr_bin_edges), align='edge',
       color=HIST_FILL, edgecolor=HIST_EDGE, linewidth=0.9)
ax.set_xlim(-0.112, 2.912)
ax.set_ylim(-4.24, 110.24)
ax.set_xticks([0.0, 0.5, 1.0, 1.5, 2.0, 2.5], ['0.0', '0.5', '1.0', '1.5', '2.0', '2.5'])
ax.set_yticks([0, 20, 40, 60, 80, 100], ['0', '20', '40', '60', '80', '100'])
style(ax, 9.5, 5.5, 5.0)
labels(ax, r_brh, 'Percentage error (%)', 'Count', 11, 977, 768)

# page frame along the top and left edges
fig.add_artist(Line2D([7 / W, 1.0], [1 - 7 / H, 1 - 7 / H], transform=fig.transFigure, color='#333333', lw=1.0))
fig.add_artist(Line2D([7 / W, 7 / W], [0.0, 1 - 7 / H], transform=fig.transFigure, color='#333333', lw=1.0))

fig.savefig('out.png', dpi=100, facecolor='white')
